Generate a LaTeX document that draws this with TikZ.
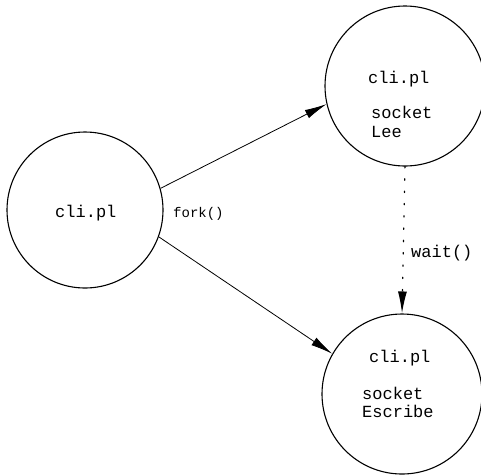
\documentclass[tikz,border=0pt]{standalone}
\usepackage{fontspec}
\setmonofont{Liberation Mono}
\usetikzlibrary{arrows.meta}
\begin{document}
\begin{tikzpicture}[x=1pt,y=-1pt,
  proc/.style={circle,draw,line width=1.1pt,minimum size=#1,inner sep=0pt},
  lbl/.style={font=\ttfamily\fontsize{17}{19}\selectfont,inner sep=0pt,anchor=base west},
  small/.style={font=\ttfamily\fontsize{14}{16}\selectfont,inner sep=0pt,anchor=base west},
  arr/.style={-{Latex[length=22pt,width=9pt]},line width=0.8pt}]
\useasboundingbox (0,0) rectangle (481,475);
% processes
\node[proc=156pt] (p) at (85,210) {};
\node[proc=160pt] (lee) at (405,86) {};
\node[proc=160pt] (esc) at (402,394) {};
% texts inside the circles
\node[lbl] (ptxt) at (55,217) {cli.pl};
\node[lbl] (leetxt) at (368,83) {cli.pl};
\node[lbl] (leesock) at (371,118) {socket};
\node[lbl] (leename) at (371,137) {Lee};
\node[lbl] (esctxt) at (369,362) {cli.pl};
\node[lbl] (escsock) at (362,399) {socket};
\node[lbl] (escname) at (362,417) {Escribe};
% connectors
\draw[arr] (p.16) -- (lee.193);
\draw[arr] (p.-20) -- (esc.150);
\draw[arr,dash pattern=on 1.3pt off 11pt,line cap=round,line width=1.3pt] (lee.south) -- (esc.north);
% connector labels
\node[small] (fork) at (173,217) {fork()};
\node[lbl] (wait) at (411,257) {wait()};
\end{tikzpicture}
\end{document}
